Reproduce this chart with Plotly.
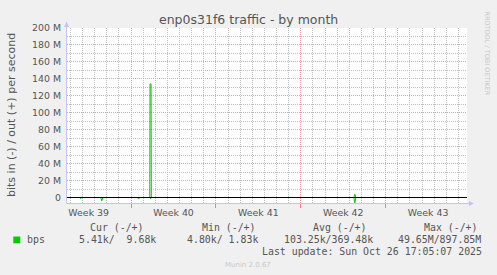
import plotly.graph_objects as go

# ---------------- data ----------------
x_start = "2025-09-23 17:05:07"
x_end = "2025-10-26 17:05:07"

out_times = [
    "2025-09-23 17:05", "2025-09-30 13:00", "2025-09-30 13:30",
    "2025-09-30 15:30", "2025-09-30 16:00", "2025-10-17 09:00",
    "2025-10-17 11:00", "2025-10-17 13:00", "2025-10-26 17:05",
]
out_bps = [9.7e3, 9.7e3, 134e6, 134e6, 9.7e3, 9.7e3, 3.9e6, 9.7e3, 9.7e3]

in_times = [
    "2025-09-23 17:05", "2025-09-24 18:00", "2025-09-24 20:00", "2025-09-24 22:00",
    "2025-09-26 12:00", "2025-09-26 14:00", "2025-09-26 16:00",
    "2025-09-29 12:00", "2025-09-29 14:00", "2025-09-29 16:00", "2025-09-29 18:00",
    "2025-09-30 13:00", "2025-09-30 14:00", "2025-09-30 15:00", "2025-09-30 16:00",
    "2025-10-17 09:00", "2025-10-17 11:00", "2025-10-17 13:00", "2025-10-26 17:05",
]
in_bps = [
    5.4e3, 5.4e3, 1.5e6, 5.4e3,
    5.4e3, 4.0e6, 5.4e3,
    5.4e3, 1.2e6, 1.2e6, 5.4e3,
    5.4e3, 1.2e6, 1.2e6, 5.4e3,
    5.4e3, 6.4e6, 5.4e3, 5.4e3,
]

y_tickvals = [0, 20e6, 40e6, 60e6, 80e6, 100e6, 120e6, 140e6, 160e6, 180e6, 200e6]
y_ticktext = ["0", "20 M", "40 M", "60 M", "80 M", "100 M", "120 M", "140 M", "160 M", "180 M", "200 M"]

legend_headers = ["Cur (-/+)", "Min (-/+)", "Avg (-/+)", "Max (-/+)"]
legend_values = ["5.41k/  9.68k", "4.80k/ 1.83k", "103.25k/369.48k", "49.65M/897.85M"]
series_name = "bps"
last_update = "Last update: Sun Oct 26 17:05:07 2025"

# ---------------- geometry helpers ----------------
W, H = 497, 275
L, R, T, B = 67, 30, 28, 72
PW, PH = W - L - R, H - T - B


def px(x):
    return (x - L) / PW


def py(y):
    return (H - B - y) / PH


GREEN = "#00CC00"
TXT = "#555555"
SANS = "DejaVu Sans"
MONO = "DejaVu Sans Mono"
MAJ = "#F09C9C"
MIN = "#BEBEBE"

fig = go.Figure()
fig.add_trace(go.Scatter(x=out_times, y=out_bps, mode="lines",
                         line=dict(color=GREEN, width=1), showlegend=False))
fig.add_trace(go.Scatter(x=in_times, y=[-v for v in in_bps], mode="lines",
                         line=dict(color=GREEN, width=1), showlegend=False))

fig.update_layout(
    width=W, height=H, autosize=False,
    margin=dict(l=L, r=R, t=T, b=B, pad=0),
    paper_bgcolor="#F0F0F0", plot_bgcolor="#FFFFFF",
    showlegend=False,
    xaxis=dict(
        type="date", range=[x_start, x_end],
        tick0="2025-09-22", dtick=7 * 86400000,
        ticklabelmode="period", tickformat="Week %V",
        ticks="outside", ticklen=4, tickcolor="#F08080", tickwidth=1,
        ticklabelstandoff=-3,
        showgrid=True, gridcolor=MAJ, griddash="1px,1px", gridwidth=1,
        minor=dict(tickmode="linear", dtick=86400000, tick0="2025-09-22", showgrid=True,
                   gridcolor=MIN, griddash="1px,1px", gridwidth=1, ticks=""),
        tickfont=dict(family=SANS, size=9.4, color=TXT),
        showline=False, zeroline=False, fixedrange=True,
    ),
    yaxis=dict(
        range=[-6.49e6, 200e6],
        tickmode="array", tickvals=y_tickvals, ticktext=y_ticktext,
        ticks="", ticklabelstandoff=5,
        showgrid=True, gridcolor=MAJ, griddash="1px,1px", gridwidth=1,
        minor=dict(tickmode="linear", tick0=0, dtick=10e6, showgrid=True,
                   gridcolor=MIN, griddash="1px,1px", gridwidth=1, ticks=""),
        tickfont=dict(family=SANS, size=9.4, color=TXT),
        showline=False, zeroline=False, fixedrange=True,
    ),
)

AX = "#C4C4F4"


def pth(points):
    return "M " + " L ".join(f"{px(a):.5f},{py(b):.5f}" for a, b in points) + " Z"


shapes = [
    # zero rule
    dict(type="line", xref="paper", yref="y", x0=0, x1=1, y0=0, y1=0,
         line=dict(color="#000000", width=1), layer="above"),
    # left axis line
    dict(type="line", xref="paper", yref="paper", x0=px(66.5), x1=px(66.5),
         y0=py(203.5), y1=py(25), line=dict(color=AX, width=1), layer="above"),
    # bottom axis line
    dict(type="line", xref="paper", yref="paper", x0=px(66.5), x1=px(470),
         y0=py(203.5), y1=py(203.5), line=dict(color=AX, width=1), layer="above"),
    # arrow heads
    dict(type="path", xref="paper", yref="paper",
         path=pth([(64.0, 27.0), (69.0, 27.0), (66.5, 21.5)]),
         fillcolor=AX, line=dict(width=0), layer="above"),
    dict(type="path", xref="paper", yref="paper",
         path=pth([(469.0, 201.0), (469.0, 206.0), (474.0, 203.5)]),
         fillcolor=AX, line=dict(width=0), layer="above"),
]
fig.update_layout(shapes=shapes)

# title
fig.add_annotation(xref="paper", yref="paper", x=px(248), y=py(19),
                   text="enp0s31f6 traffic - by month", showarrow=False,
                   xanchor="center", yanchor="middle",
                   font=dict(family=SANS, size=12.5, color=TXT))
# y axis title
fig.add_annotation(xref="paper", yref="paper", x=px(11), y=py(115),
                   text="bits in (-) / out (+) per second", showarrow=False,
                   textangle=-90, xanchor="center", yanchor="middle",
                   font=dict(family=SANS, size=11, color=TXT))
# rrdtool credit
fig.add_annotation(xref="paper", yref="paper", x=px(487), y=py(53.5),
                   text="RRDTOOL / TOBI OETIKER", showarrow=False,
                   textangle=90, xanchor="center", yanchor="middle",
                   font=dict(family=SANS, size=6.5, color="#C8C8C8"))

# legend block
head_x = [89.3, 201, 312, 423]
val_x = [78.3, 185.7, 283, 397]
for hx, h in zip(head_x, legend_headers):
    fig.add_annotation(xref="paper", yref="paper", x=px(hx), y=py(227.7), text=h.replace(" ", "&nbsp;"),
                       showarrow=False, xanchor="left", yanchor="middle", borderpad=0,
                       font=dict(family=MONO, size=9.9, color=TXT))
for vx, v in zip(val_x, legend_values):
    fig.add_annotation(xref="paper", yref="paper", x=px(vx), y=py(239.5), text=v.replace(" ", "&nbsp;"),
                       showarrow=False, xanchor="left", yanchor="middle", borderpad=0,
                       font=dict(family=MONO, size=9.9, color=TXT))
fig.add_annotation(xref="paper", yref="paper", x=px(26.3), y=py(239.5), text=series_name,
                   showarrow=False, xanchor="left", yanchor="middle", borderpad=0,
                   font=dict(family=MONO, size=9.9, color=TXT))
fig.add_shape(type="rect", xref="paper", yref="paper",
              x0=px(13.3), x1=px(20.3), y0=py(243.3), y1=py(236.5),
              fillcolor=GREEN, line=dict(width=0))
fig.add_annotation(xref="paper", yref="paper", x=px(261.3), y=py(251.7), text=last_update.replace(" ", "&nbsp;"),
                   showarrow=False, xanchor="left", yanchor="middle", borderpad=0,
                   font=dict(family=MONO, size=9.9, color=TXT))
fig.add_annotation(xref="paper", yref="paper", x=px(248), y=py(264.5), text="Munin 2.0.67",
                   showarrow=False, xanchor="center", yanchor="middle", borderpad=0,
                   font=dict(family=SANS, size=7, color="#C8C8C8"))

fig.write_html("out.html")
